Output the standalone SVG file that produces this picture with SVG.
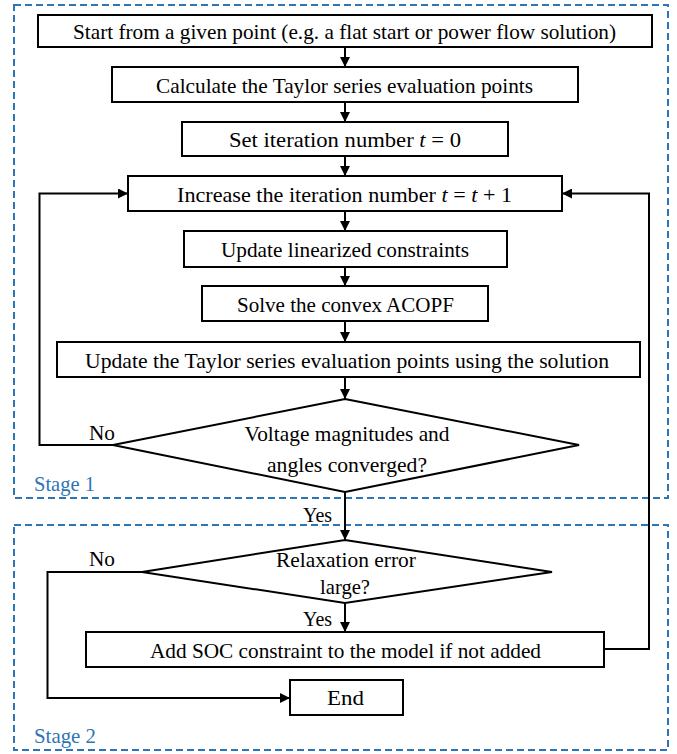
<svg xmlns="http://www.w3.org/2000/svg" width="677" height="754" viewBox="0 0 677 754">
  <style>
    .box { fill: #ffffff; stroke: #000000; stroke-width: 2; }
    .wire { fill: none; stroke: #000000; stroke-width: 2; }
    .stage { fill: none; stroke: #2e75b6; stroke-width: 2; stroke-dasharray: 7 4; }
    .label { font-family: "Liberation Serif", "Times New Roman", serif; font-size: 22px; fill: #000000; text-anchor: middle; }
    .tag { font-family: "Liberation Serif", "Times New Roman", serif; font-size: 22px; fill: #000000; }
    .stagetxt { font-family: "Liberation Serif", "Times New Roman", serif; font-size: 22px; fill: #2e75b6; }
    .m { font-style: italic; }
  </style>
  <defs>
    <marker id="arrow" viewBox="0 0 10 10" refX="10" refY="5" markerWidth="5" markerHeight="5" orient="auto" markerUnits="strokeWidth">
      <path d="M0,0 L10,5 L0,10 z" fill="#000000"/>
    </marker>
  </defs>

  <rect width="677" height="754" fill="#ffffff"/>

  <!-- stage frames -->
  <g id="stage1">
    <rect class="stage" x="14" y="5" width="654" height="493"/>
    <text class="stagetxt" x="34" y="491" textLength="61" lengthAdjust="spacingAndGlyphs">Stage 1</text>
  </g>
  <g id="stage2">
    <rect class="stage" x="14" y="525" width="654" height="225"/>
    <text class="stagetxt" x="34" y="743" textLength="62" lengthAdjust="spacingAndGlyphs">Stage 2</text>
  </g>

  <!-- connectors -->
  <g id="connectors">
    <line class="wire" x1="345" y1="47" x2="345" y2="67" marker-end="url(#arrow)"/>
    <line class="wire" x1="345" y1="102" x2="345" y2="122" marker-end="url(#arrow)"/>
    <line class="wire" x1="345" y1="156" x2="345" y2="176" marker-end="url(#arrow)"/>
    <line class="wire" x1="345" y1="211" x2="345" y2="231" marker-end="url(#arrow)"/>
    <line class="wire" x1="345" y1="267" x2="345" y2="286" marker-end="url(#arrow)"/>
    <line class="wire" x1="345" y1="321" x2="345" y2="342" marker-end="url(#arrow)"/>
    <line class="wire" x1="345" y1="377" x2="345" y2="399" marker-end="url(#arrow)"/>
    <line class="wire" x1="345" y1="492" x2="345" y2="540" marker-end="url(#arrow)"/>
    <line class="wire" x1="345" y1="603" x2="345" y2="632" marker-end="url(#arrow)"/>
    <polyline class="wire" points="113,445 39.5,445 39.5,193.5 128,193.5" marker-end="url(#arrow)"/>
    <polyline class="wire" points="604,649 649,649 649,193.5 562,193.5" marker-end="url(#arrow)"/>
    <polyline class="wire" points="142,572 47.5,572 47.5,698 290,698" marker-end="url(#arrow)"/>
    <text class="tag" x="89" y="440" textLength="26" lengthAdjust="spacingAndGlyphs">No</text>
    <text class="tag" x="303" y="522" textLength="29" lengthAdjust="spacingAndGlyphs">Yes</text>
    <text class="tag" x="89" y="566" textLength="26" lengthAdjust="spacingAndGlyphs">No</text>
    <text class="tag" x="303" y="626" textLength="29" lengthAdjust="spacingAndGlyphs">Yes</text>
  </g>

  <g id="start">
    <rect class="box" x="38" y="15" width="614" height="32"/>
    <text class="label" x="344.5" y="38.5" textLength="543" lengthAdjust="spacingAndGlyphs">Start from a given point (e.g. a flat start or power flow solution)</text>
  </g>
  <g id="calc-points">
    <rect class="box" x="112" y="67" width="466" height="35"/>
    <text class="label" x="344.5" y="92.5" textLength="377" lengthAdjust="spacingAndGlyphs">Calculate the Taylor series evaluation points</text>
  </g>
  <g id="set-iter">
    <rect class="box" x="182" y="122" width="326" height="34"/>
    <text class="label" x="345" y="146.5" textLength="232" lengthAdjust="spacingAndGlyphs">Set iteration number <tspan class="m">t</tspan> = 0</text>
  </g>
  <g id="increase-iter">
    <rect class="box" x="128" y="176" width="434" height="35"/>
    <text class="label" x="344.5" y="201.5" textLength="335" lengthAdjust="spacingAndGlyphs">Increase the iteration number <tspan class="m">t</tspan> = <tspan class="m">t</tspan> + 1</text>
  </g>
  <g id="update-constraints">
    <rect class="box" x="184" y="231" width="323" height="36"/>
    <text class="label" x="345" y="256.5" textLength="248" lengthAdjust="spacingAndGlyphs">Update linearized constraints</text>
  </g>
  <g id="solve-acopf">
    <rect class="box" x="202" y="286" width="286" height="35"/>
    <text class="label" x="345.5" y="311.5" textLength="217" lengthAdjust="spacingAndGlyphs">Solve the convex ACOPF</text>
  </g>
  <g id="update-points">
    <rect class="box" x="57" y="342" width="583" height="35"/>
    <text class="label" x="347" y="367.5" textLength="524" lengthAdjust="spacingAndGlyphs">Update the Taylor series evaluation points using the solution</text>
  </g>
  <g id="converged">
    <polygon class="box" points="345,399 579,445 345,492 113,445"/>
    <text class="label" x="347" y="441" textLength="205" lengthAdjust="spacingAndGlyphs">Voltage magnitudes and</text>
    <text class="label" x="347" y="472" textLength="160" lengthAdjust="spacingAndGlyphs">angles converged?</text>
  </g>
  <g id="relaxation">
    <polygon class="box" points="345,540 552,572 345,603 142,572"/>
    <text class="label" x="346" y="567" textLength="140" lengthAdjust="spacingAndGlyphs">Relaxation error</text>
    <text class="label" x="345" y="594" textLength="50" lengthAdjust="spacingAndGlyphs">large?</text>
  </g>
  <g id="add-soc">
    <rect class="box" x="86" y="632" width="518" height="35"/>
    <text class="label" x="345.5" y="657.5" textLength="391" lengthAdjust="spacingAndGlyphs">Add SOC constraint to the model if not added</text>
  </g>
  <g id="end">
    <rect class="box" x="290" y="680" width="113" height="35"/>
    <text class="label" x="345.5" y="704.5" textLength="37" lengthAdjust="spacingAndGlyphs">End</text>
  </g>
</svg>
